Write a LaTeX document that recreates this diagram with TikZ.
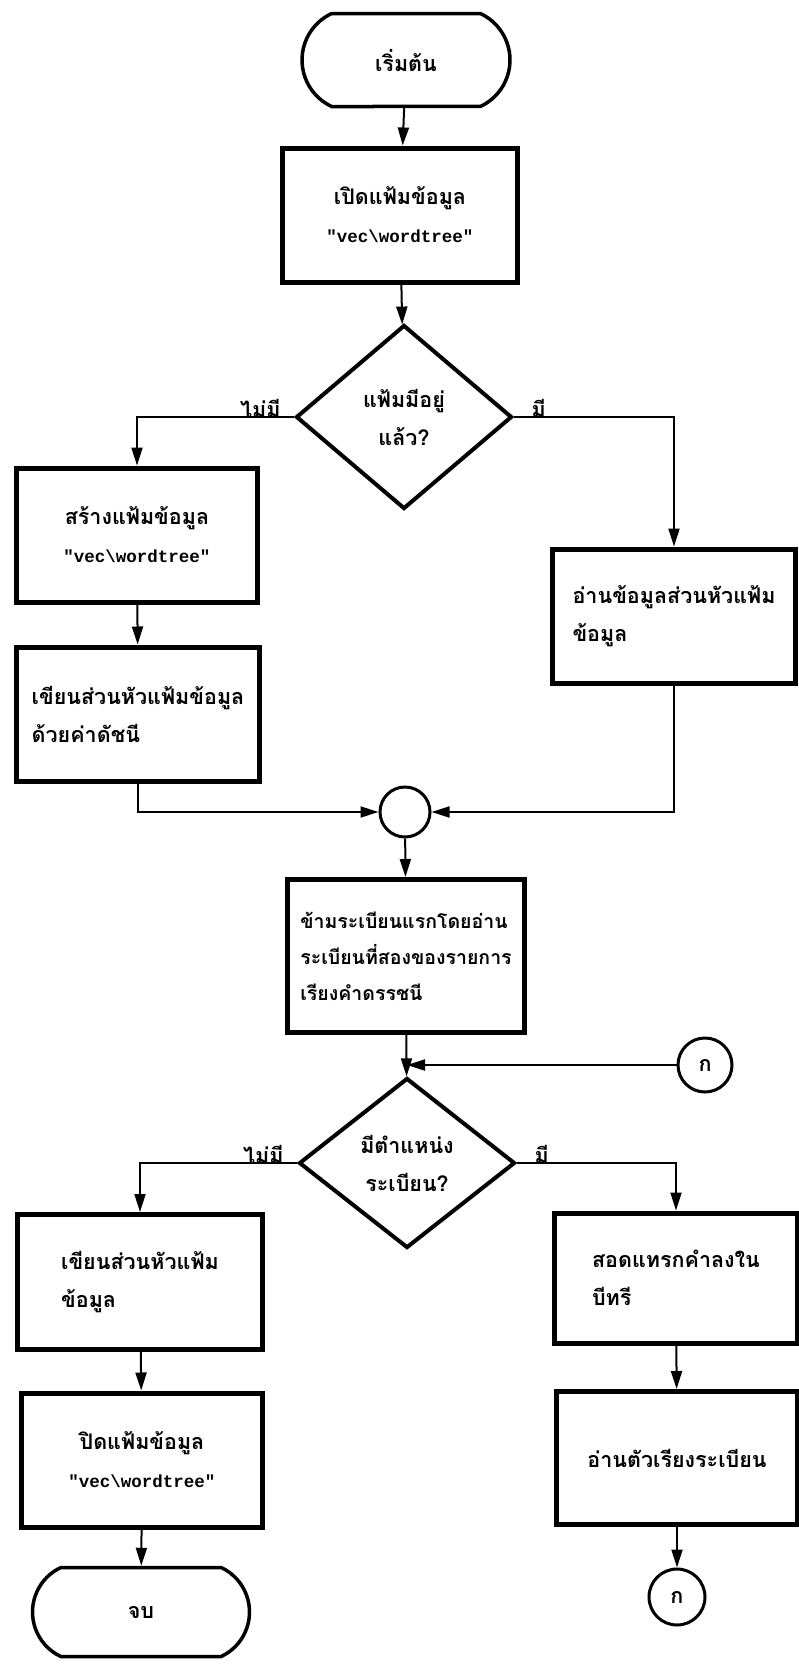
\documentclass[tikz,border=0pt]{standalone}
\usepackage{fontspec}
\newfontfamily\thaifont[Script=Thai]{Loma}
\newfontfamily\wordfont{Liberation Mono}
\usetikzlibrary{shapes.geometric,shapes.misc,arrows.meta}
\newcommand{\vecfile}{{\wordfont\bfseries\fontsize{17.5}{38}\selectfont "vec\textbackslash wordtree"}}
\begin{document}
\begin{tikzpicture}[x=1pt,y=-1pt,
	txt/.style={font=\thaifont\bfseries\fontsize{21.5}{38}\selectfont},
	procbox/.style={txt,draw,line width=5pt,rectangle,inner sep=0pt,align=center},
	leftbox/.style={procbox,align=left},
	termbox/.style={txt,draw,line width=3.5pt,rounded rectangle,rounded rectangle arc length=130,inner sep=0pt},
	decbox/.style={txt,draw,line width=4pt,diamond,inner sep=0pt,align=center},
	joinbox/.style={txt,draw,line width=3pt,circle,inner sep=0pt},
	flow/.style={line width=2pt,-{Triangle[length=18pt,width=11pt]}}]
	\useasboundingbox (0,0) rectangle (799,1665);
	% upper part
	\node[termbox,minimum width=208pt,minimum height=93pt] (start) at (406,60) {เริ่มต้น};
	\node[procbox,minimum width=235pt,minimum height=134pt] (openf) at (400,215) {เปิดแฟ้มข้อมูล\\\vecfile};
	\node[decbox,minimum width=216pt,minimum height=184pt] (exists) at (404,417) {แฟ้มมีอยู่\\แล้ว?};
	\node[procbox,minimum width=241pt,minimum height=134pt] (makef) at (137,535) {สร้างแฟ้มข้อมูล\\\vecfile};
	\node[leftbox,minimum width=243pt,minimum height=134pt] (writeh) at (138,714) {เขียนส่วนหัวแฟ้มข้อมูล\\ด้วยค่าดัชนี};
	\node[leftbox,minimum width=243pt,minimum height=134pt] (readh) at (674,616) {อ่านข้อมูลส่วนหัวแฟ้ม\\ข้อมูล};
	\node[joinbox,minimum size=50pt] (merge) at (405,812) {};
	\draw[flow] (start) -- (openf);
	\draw[flow] (openf) -- (exists);
	\draw[flow] (exists.west) -| (makef.north);
	\draw[flow] (exists.east) -| (readh.north);
	\node[txt,anchor=south east] (no1) at ([xshift=-10pt,yshift=-4pt]exists.west) {ไม่มี};
	\node[txt,anchor=south west] (yes1) at ([xshift=14pt,yshift=-4pt]exists.east) {มี};
	\draw[flow] (makef) -- (writeh);
	\draw[flow] (writeh.south) |- (merge.west);
	\draw[flow] (readh.south) |- (merge.east);
	% middle part
	\node[leftbox,font=\thaifont\bfseries\fontsize{19.5}{36}\selectfont,minimum width=237pt,minimum height=153pt] (skip) at (406,956) {ข้ามระเบียนแรกโดยอ่าน\\ระเบียนที่สองของรายการ\\เรียงคำดรรชนี};
	\node[joinbox,minimum size=54pt] (conna) at (705,1065) {ก};
	\node[decbox,minimum width=216pt,minimum height=170pt] (haspos) at (407,1163) {มีตำแหน่ง\\ระเบียน?};
	\coordinate (meet) at (haspos.north |- conna.west);
	\draw[flow] (merge) -- (skip);
	\draw[flow] (skip) -- (haspos);
	\draw[flow] (conna.west) -- (meet);
	\node[txt,anchor=south east] (no2) at ([xshift=-10pt,yshift=-4pt]haspos.west) {ไม่มี};
	\node[txt,anchor=south west] (yes2) at ([xshift=14pt,yshift=-4pt]haspos.east) {มี};
	% lower part
	\node[leftbox,minimum width=245pt,minimum height=135pt] (writeh2) at (140,1282) {เขียนส่วนหัวแฟ้ม\\ข้อมูล};
	\node[procbox,minimum width=241pt,minimum height=134pt] (closef) at (142,1460) {ปิดแฟ้มข้อมูล\\\vecfile};
	\node[termbox,minimum width=217pt,minimum height=89pt] (stop) at (141,1612) {จบ};
	\node[leftbox,minimum width=243pt,minimum height=130pt] (insert) at (676,1278) {สอดแทรกคำลงใน\\บีทรี};
	\node[procbox,minimum width=241pt,minimum height=133pt] (readrec) at (677,1458) {อ่านตัวเรียงระเบียน};
	\node[joinbox,minimum size=56pt] (connb) at (677,1597) {ก};
	\draw[flow] (haspos.west) -| (writeh2.north);
	\draw[flow] (haspos.east) -| (insert.north);
	\draw[flow] (writeh2) -- (closef);
	\draw[flow] (closef) -- (stop);
	\draw[flow] (insert) -- (readrec);
	\draw[flow] (readrec) -- (connb);
\end{tikzpicture}
\end{document}
